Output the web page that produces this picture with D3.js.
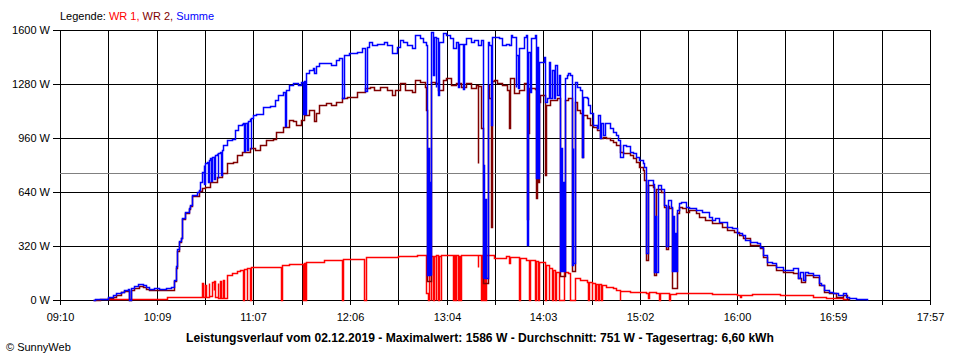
<!DOCTYPE html>
<html><head><meta charset="utf-8">
<script src="https://cdn.jsdelivr.net/npm/d3@7"></script>
<style>body{margin:0;background:#fff}svg{display:block;font-family:"Liberation Sans",Arial,sans-serif}</style>
</head><body><svg id="c" width="960" height="360"></svg>
<script>
// ---- data ----
const xLabels = ["09:10","10:09","11:07","12:06","13:04","14:03","15:02","16:00","16:59","17:57"];
const yTicks = [0,320,640,960,1280,1600];
const average = 751;
const seriesNames = ["WR 1","WR 2","Summe"];
const titleText = "Leistungsverlauf vom 02.12.2019 - Maximalwert: 1586 W - Durchschnitt: 751 W - Tagesertrag: 6,60 kWh";
const copyright = "© SunnyWeb";

const wr1 = [["09:39",8],["10:15",15],["10:35",20],["10:36",100],["10:36:30",20],["10:38",90],["10:38:30",15],["10:40",100],["10:40:30",25],["10:42",105],["10:43",60],["10:43:30",110],["10:44",15],["10:45:30",100],["10:46",10],["10:47",110],["10:47:30",10],["10:49",120],["10:49:30",10],["10:51",150],["10:54",160],["10:57",172],["10:59",180],["11:01",0],["11:01:30",185],["11:03",0],["11:03:30",190],["11:05",0],["11:05:30",195],["11:07",197],["11:24",0],["11:24:30",207],["11:29",213],["11:37",0],["11:37:30",220],["11:38:30",0],["11:39",225],["11:50",235],["11:53",240],["12:01",0],["12:01:30",245],["12:14",0],["12:15:30",253],["12:35",262],["12:46",265],["12:52",40],["12:53",0],["12:53:30",260],["12:54:30",0],["12:55",262],["12:56",0],["12:56:30",262],["12:57:30",0],["12:58",265],["12:59",0],["12:59:30",263],["13:00:30",0],["13:01",265],["13:08",0],["13:08:30",265],["13:09:30",0],["13:10",265],["13:11",0],["13:11:30",262],["13:12:30",0],["13:13",265],["13:23",197],["13:23:30",265],["13:25",0],["13:25:30",265],["13:26:30",0],["13:27",265],["13:27:30",0],["13:28",265],["13:33",250],["13:40",262],["13:42",217],["13:42:30",255],["13:48",0],["13:48:30",250],["13:52",240],["13:54",0],["13:54:30",240],["13:58",0],["13:58:30",230],["13:59:30",0],["14:00",227],["14:04",0],["14:04:30",210],["14:06",0],["14:06:30",190],["14:08",0],["14:08:30",175],["14:10",0],["14:10:30",168],["14:12",0],["14:15",168],["14:18",160],["14:19",0],["14:22",130],["14:25",119],["14:29",108],["14:30",0],["14:30:30",105],["14:32",0],["14:32:30",100],["14:34",0],["14:34:30",95],["14:36",0],["14:36:30",92],["14:38",0],["14:38:30",89],["14:41",79],["14:45",69],["14:47",59],["14:49",0],["14:49:30",55],["14:55",49],["15:05",40],["15:06",10],["15:06:30",49],["15:11",40],["15:13",0],["15:13:30",40],["15:19",0],["15:19:30",35],["15:23",40],["15:45",38],["16:00",30],["16:02",20],["16:02:30",30],["16:09",33],["16:26",30],["16:36",28],["16:46",20],["16:54",10],["17:04",6],["17:06",3],["17:07",0]];

const wr2 = [["09:30",0],["09:34",4],["09:39",10],["09:42",20],["09:44",30],["09:47",45],["09:49",52],["09:51",56],["09:52",0],["09:53",62],["09:55",72],["09:58",83],["10:00",76],["10:02",66],["10:04",60],["10:10",58],["10:17",62],["10:19",110],["10:20",190],["10:21",290],["10:22",345],["10:23",365],["10:24",480],["10:26",518],["10:28",540],["10:29",558],["10:30",615],["10:34",645],["10:36",665],["10:38",671],["10:41",701],["10:45",731],["10:48",753],["10:51",810],["10:55",820],["10:57",859],["11:00",879],["11:05",901],["11:08",890],["11:11",918],["11:15",948],["11:19",955],["11:21",997],["11:25",1027],["11:29",1067],["11:31",1060],["11:33",1037],["11:36",1067],["11:38",1096],["11:41",1126],["11:44",1060],["11:45",1110],["11:47",1156],["11:51",1165],["11:54",1156],["11:57",1175],["12:01",1195],["12:04",1205],["12:10",1234],["12:15",1254],["12:18",1264],["12:20",1244],["12:24",1264],["12:28",1244],["12:31",1215],["12:33",1244],["12:36",1284],["12:39",1244],["12:43",1234],["12:45",1304],["12:48",1294],["12:51",1264],["12:52",1126],["12:52:30",110],["12:55",1290],["12:57",1284],["12:59",1244],["13:02",1304],["13:04",1314],["13:07",1274],["13:10",1284],["13:13",1264],["13:16",1284],["13:19",1254],["13:22",1274],["13:23",810],["13:23:30",1270],["13:25",1019],["13:26",100],["13:29",1274],["13:30",1195],["13:31",434],["13:31:30",1300],["13:33",1304],["13:35",1284],["13:38",1274],["13:41",1244],["13:42",1019],["13:42:30",1314],["13:45",1225],["13:48",1244],["13:51",1284],["13:53",480],["13:53:30",990],["13:54",1254],["13:58",1250],["13:58:30",604],["13:59",1200],["13:59:30",700],["14:00",1175],["14:01",1215],["14:04",741],["14:04:30",1156],["14:07",1185],["14:11",1195],["14:13",140],["14:16",1185],["14:18",1195],["14:20",170],["14:22",1175],["14:23",1126],["14:25",1106],["14:26",849],["14:27",1096],["14:29",1076],["14:31",1037],["14:33",1027],["14:35",1007],["14:37",960],["14:39",968],["14:41",960],["14:43",950],["14:45",938],["14:47",918],["14:49",879],["14:51",870],["14:55",860],["14:57",840],["14:59",820],["15:01",790],["15:03",770],["15:04",711],["15:05",240],["15:06",680],["15:09",670],["15:10",150],["15:11",660],["15:14",640],["15:16",553],["15:17",300],["15:18",560],["15:19",543],["15:21",70],["15:24",514],["15:25",553],["15:27",543],["15:29",523],["15:31",533],["15:35",514],["15:37",494],["15:41",474],["15:45",454],["15:51",434],["15:54",415],["15:58",405],["16:01",385],["16:04",366],["16:08",326],["16:14",306],["16:16",257],["16:18",207],["16:24",178],["16:28",168],["16:34",158],["16:37",128],["16:39",108],["16:41",148],["16:46",138],["16:50",89],["16:53",49],["16:56",40],["17:00",20],["17:04",30],["17:07",6],["17:08",0]];

const summe = [["09:30",0],["09:31",5],["09:35",8],["09:39",15],["09:42",28],["09:44",40],["09:47",50],["09:49",60],["09:51",65],["09:52",0],["09:53",72],["09:55",82],["09:57",92],["09:58",96],["10:00",86],["10:02",76],["10:04",68],["10:07",73],["10:10",68],["10:14",72],["10:17",76],["10:19",120],["10:20",200],["10:21",300],["10:22",350],["10:23",370],["10:24",485],["10:26",523],["10:28",545],["10:29",563],["10:30",622],["10:33",640],["10:34",652],["10:35",700],["10:36",760],["10:37",800],["10:37:30",690],["10:38",810],["10:39",820],["10:39:30",700],["10:40",830],["10:41",840],["10:41:30",705],["10:42",845],["10:43",855],["10:43:30",715],["10:44",860],["10:45",865],["10:45:30",725],["10:46",870],["10:47",880],["10:47:30",740],["10:48",890],["10:49",918],["10:51",948],["10:54",955],["10:56",1007],["10:58",1037],["11:00",1045],["11:01",1048],["11:01:30",882],["11:02",1050],["11:03",1055],["11:03:30",888],["11:04",1060],["11:05",1070],["11:05:30",895],["11:06",1078],["11:07",1096],["11:09",1100],["11:13",1145],["11:17",1150],["11:20",1185],["11:22",1215],["11:25",1235],["11:26",1030],["11:27",1245],["11:29",1274],["11:31",1284],["11:34",1274],["11:36",1294],["11:37",1100],["11:37:30",1296],["11:38:30",1105],["11:39",1344],["11:41",1363],["11:43",1375],["11:44",1345],["11:45",1385],["11:47",1404],["11:51",1404],["11:54",1395],["11:57",1420],["11:59",1432],["12:01",1200],["12:02",1452],["12:05",1462],["12:10",1472],["12:13",1491],["12:15",1240],["12:16",1500],["12:17",1531],["12:19",1510],["12:22",1515],["12:26",1531],["12:28",1511],["12:31",1464],["12:34",1500],["12:36",1541],["12:38",1531],["12:40",1511],["12:43",1491],["12:45",1570],["12:48",1551],["12:50",1531],["12:52",1511],["12:52:30",150],["12:53",900],["12:53:30",150],["12:54",700],["12:54:30",150],["12:55",1590],["12:56",1333],["12:56:30",1560],["12:57:30",1264],["12:58",1550],["12:59",1215],["12:59:30",1531],["13:02",1580],["13:04",1570],["13:06",1551],["13:08",1491],["13:10",1531],["13:11",1264],["13:11:30",1520],["13:14",1250],["13:14:30",1520],["13:16",1551],["13:19",1531],["13:21",1541],["13:23",1511],["13:25",1541],["13:26",130],["13:26:30",800],["13:27",130],["13:27:30",600],["13:28",130],["13:29",1531],["13:30",1511],["13:31",1037],["13:31:30",1560],["13:36",1551],["13:38",1511],["13:40",1520],["13:42",1511],["13:43",1570],["13:44",1560],["13:46",1264],["13:46:30",1452],["13:47:30",1254],["13:48",1491],["13:51",1560],["13:52",1570],["13:53",326],["13:53:30",1471],["13:55",1234],["13:55:30",1551],["13:58",1570],["13:58:30",723],["13:59",1500],["13:59:30",723],["14:00",1412],["14:03",1442],["14:04",1175],["14:05",1195],["14:06",1412],["14:07",1195],["14:08",1363],["14:09",1195],["14:10",1393],["14:11",1215],["14:12",1333],["14:13",170],["14:13:30",900],["14:14",170],["14:14:30",700],["14:15",170],["14:16",1314],["14:17",1333],["14:18",1343],["14:19",1333],["14:20",210],["14:20:30",900],["14:21",220],["14:22",1294],["14:23",1264],["14:25",1244],["14:26",850],["14:27",1205],["14:29",1195],["14:30",1156],["14:31",1106],["14:33",1037],["14:35",1019],["14:36",1096],["14:37",960],["14:38",1049],["14:39",980],["14:40",1049],["14:43",1019],["14:45",997],["14:47",978],["14:48",950],["14:49",850],["14:51",918],["14:53",910],["14:55",880],["14:57",870],["14:59",849],["15:01",830],["15:03",810],["15:04",790],["15:05",280],["15:06",711],["15:09",690],["15:10",168],["15:10:30",500],["15:11",168],["15:12",680],["15:14",660],["15:16",563],["15:17",320],["15:18",590],["15:20",553],["15:21",170],["15:21:30",500],["15:22",170],["15:22:30",400],["15:23",170],["15:24",533],["15:25",573],["15:26",583],["15:29",553],["15:31",543],["15:35",533],["15:39",523],["15:43",494],["15:45",474],["15:47",484],["15:49",464],["15:51",464],["15:54",434],["15:57",425],["16:00",395],["16:03",385],["16:05",356],["16:08",345],["16:12",336],["16:14",316],["16:16",267],["16:18",227],["16:21",217],["16:24",197],["16:28",178],["16:34",188],["16:37",128],["16:38",168],["16:40",119],["16:41",168],["16:43",158],["16:46",148],["16:50",99],["16:51",89],["16:53",59],["16:56",49],["16:58",40],["17:01",30],["17:04",40],["17:06",20],["17:08",10],["17:12",6],["17:18",4],["17:19",0]];

// ---- drawing ----
const colors = ["#ff0000","#800000","#0000ff"];
const FONT = '"Liberation Sans", Arial, sans-serif';
const svg = d3.select("#c");
const parse = s => { const p = s.split(":").map(Number); return new Date(2019,11,2,p[0],p[1],p[2]||0); };
const t0 = parse(xLabels[0]), t1 = parse(xLabels[xLabels.length-1]);
const x = d3.scaleTime().domain([t0, t1]).rangeRound([60, 930]);
const y = d3.scaleLinear().domain([0, 1600]).rangeRound([300, 30]);

// y grid + labels
const yAxis = d3.axisLeft(y).tickValues(yTicks).tickSize(-(930 - 53)).tickPadding(3)
  .tickFormat(d => d + " W");
const gy = svg.append("g").attr("transform", "translate(53,0)").call(yAxis);
gy.select(".domain").remove();
gy.selectAll("line").attr("stroke", "#000");
gy.selectAll("text").attr("font-size", 11).attr("font-family", FONT).attr("fill", "#000");

// x grid + labels
const nInt = (xLabels.length - 1) * 2;
const xTickVals = d3.range(nInt + 1).map(i => new Date(+t0 + i * (t1 - t0) / nInt));
const xAxis = d3.axisBottom(x).tickValues(xTickVals).tickSize(-(305 - 30)).tickPadding(8)
  .tickFormat((d, i) => i % 2 === 0 ? xLabels[i / 2] : "");
const gx = svg.append("g").attr("transform", "translate(0,305)").call(xAxis);
gx.select(".domain").remove();
gx.selectAll("line").attr("stroke", "#000");
gx.selectAll("text").attr("font-size", 11).attr("font-family", FONT).attr("fill", "#000");

// average line
svg.append("line").attr("x1", 60).attr("x2", 930)
  .attr("y1", y(average) + 0.5).attr("y2", y(average) + 0.5)
  .attr("stroke", "#808080").attr("stroke-width", 1);

// series
const line = d3.line().x(d => x(parse(d[0]))).y(d => y(d[1])).curve(d3.curveStepAfter);
const gs = svg.append("g").attr("transform", "translate(0.5,0.5)");
[wr1, wr2, summe].forEach((s, i) => {
  gs.append("path").datum(s).attr("d", line).attr("fill", "none")
    .attr("stroke", colors[i]).attr("stroke-width", 1.5).attr("stroke-linejoin", "miter");
});

// legend
const leg = svg.append("text").attr("x", 60).attr("y", 20).attr("font-size", 11).attr("font-family", FONT);
leg.append("tspan").attr("fill", "#000").text("Legende: ");
seriesNames.forEach((n, i) => {
  leg.append("tspan").attr("fill", colors[i]).text(n + (i < seriesNames.length - 1 ? ", " : ""));
});

// title
svg.append("text").attr("x", 480).attr("y", 342).attr("text-anchor", "middle")
  .attr("font-size", 12.1).attr("font-weight", "bold").attr("font-family", FONT).attr("fill", "#000")
  .text(titleText);
svg.append("text").attr("x", 6).attr("y", 351).attr("font-size", 11).attr("font-family", FONT)
  .attr("fill", "#000").text(copyright);
</script></body></html>
